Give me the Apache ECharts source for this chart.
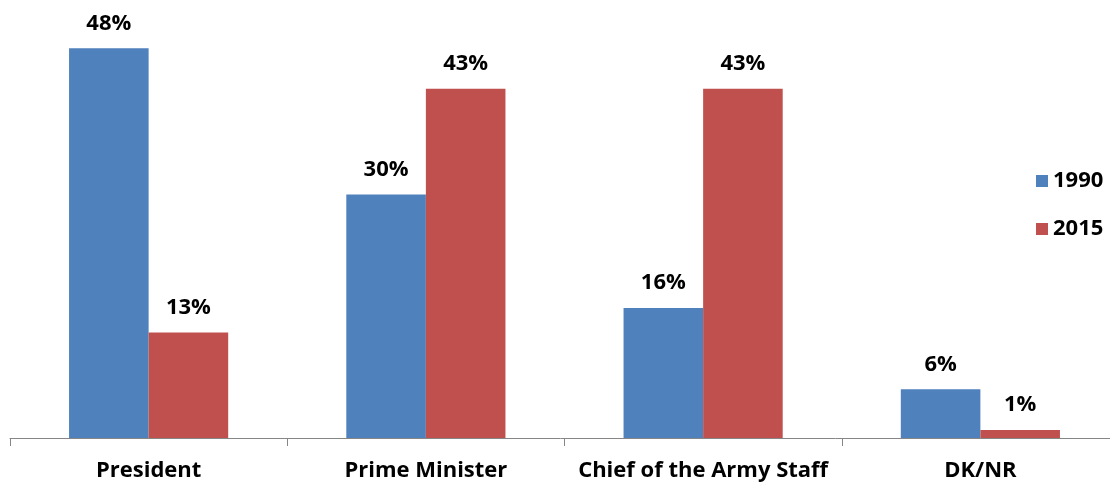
<!DOCTYPE html>
<html>
<head>
<meta charset="utf-8">
<script src="https://cdn.jsdelivr.net/npm/echarts@6/dist/echarts.min.js"></script>
<style>
html,body{margin:0;padding:0;background:#fff;}
#chart{width:1110px;height:487px;}
</style>
</head>
<body>
<div id="chart"></div>
<script>
const categories = ['President', 'Prime Minister', 'Chief of the Army Staff', 'DK/NR'];
const seriesNames = ['1990', '2015'];
const values1990 = [48, 30, 16, 6];
const values2015 = [13, 43, 43, 1];

const FONT = '"Open Sans", "Liberation Sans", sans-serif';
const chart = echarts.init(document.getElementById('chart'), null, {renderer: 'canvas'});
const labelCfg = {
  show: true,
  position: 'top',
  distance: 14,
  formatter: p => p.value + '%',
  fontFamily: FONT,
  fontWeight: 'bold',
  fontSize: 22,
  color: '#000'
};
chart.setOption({
  animation: false,
  backgroundColor: '#fff',
  grid: {left: 10, top: 32, right: -9, height: 406, containLabel: false, outerBoundsMode: 'none'},
  legend: {
    orient: 'vertical',
    left: 1031,
    top: 165,
    itemWidth: 12,
    itemHeight: 12,
    itemGap: 26,
    icon: 'rect',
    textStyle: {fontFamily: FONT, fontWeight: 'bold', fontSize: 22, color: '#000', lineHeight: 22},
    data: seriesNames
  },
  xAxis: {
    type: 'category',
    data: categories,
    axisLine: {show: true, lineStyle: {color: '#868686', width: 1}},
    axisTick: {show: true, length: 8, interval: 0, lineStyle: {color: '#868686'}},
    axisLabel: {interval: 0, hideOverlap: false, fontFamily: FONT, fontWeight: 'bold', fontSize: 22, color: '#000', margin: 22}
  },
  yAxis: {
    type: 'value',
    min: 0,
    max: 50,
    show: false,
    splitLine: {show: false}
  },
  series: [
    {name: seriesNames[0], type: 'bar', data: values1990, barGap: '0%', barCategoryGap: '42.6%',
     itemStyle: {color: '#4f81bd'}, label: labelCfg},
    {name: seriesNames[1], type: 'bar', data: values2015, barGap: '0%', barCategoryGap: '42.6%',
     itemStyle: {color: '#c0504d'}, label: labelCfg}
  ]
});
</script>
</body>
</html>
